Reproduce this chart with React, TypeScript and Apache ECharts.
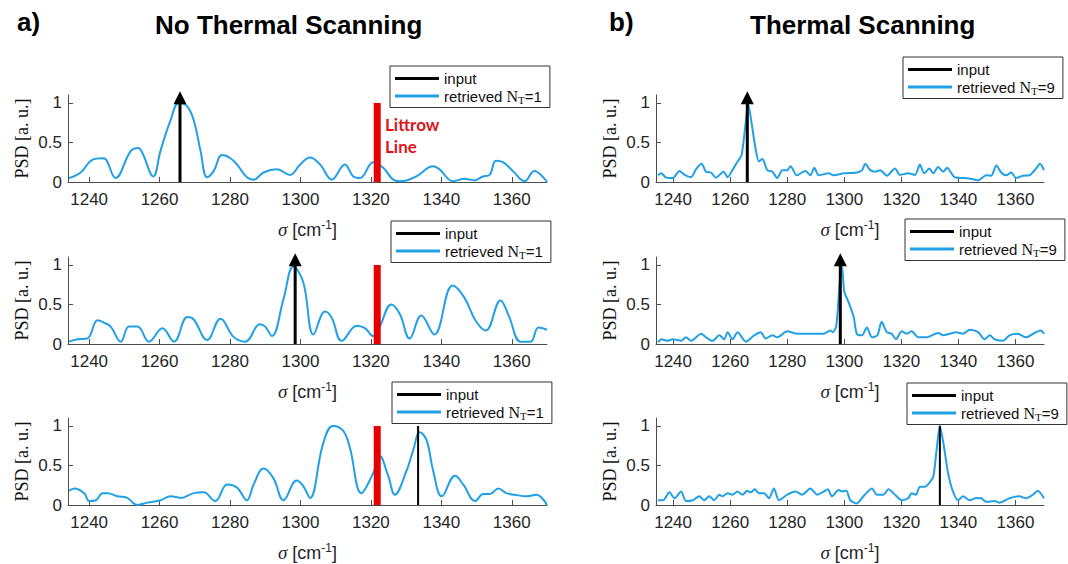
import React, { useEffect, useRef } from "react";
import * as echarts from "echarts";

// ---------- data ----------
const X_TICKS = [1240, 1260, 1280, 1300, 1320, 1340, 1360];
const Y_TICKS = [0, 0.5, 1];
const X_MIN = 1234;
const X_MAX = 1370;

const LITTROW_SIGMA = 1321.8;
const INPUT_SIGMA = [1265.8, 1298.5, 1333.4, 1266.0, 1298.6, 1333.5];
const INPUT_HAS_ARROW = [true, true, false, true, true, false];

// a) No thermal scanning, row 1
const SIGMA_A1 = [1234.3, 1237.6, 1240.9, 1243.8, 1244.7, 1247.5, 1251.8, 1253.9, 1255.1, 1258.2, 1260.3, 1263.1, 1265.5, 1267.8, 1269.7, 1271.6, 1273.5, 1275.4, 1277.7, 1280.1, 1282.0, 1284.8, 1286.7, 1289.5, 1293.3, 1297.0, 1299.9, 1302.7, 1305.6, 1308.9, 1312.6, 1315.0, 1316.9, 1320.7, 1323.5, 1326.3, 1328.2, 1330.1, 1332.9, 1337.7, 1339.5, 1343.3, 1346.6, 1349.4, 1351.8, 1353.7, 1355.5, 1357.5, 1360.3, 1363.6, 1366.4, 1368.3, 1370.0];
const PSD_A1 = [0.05, 0.12, 0.28, 0.30, 0.29, 0.05, 0.39, 0.43, 0.37, 0.07, 0.40, 0.78, 1.0, 0.96, 0.78, 0.40, 0.06, 0.14, 0.34, 0.30, 0.22, 0.06, 0.03, 0.12, 0.16, 0.09, 0.22, 0.31, 0.22, 0.03, 0.22, 0.07, 0.05, 0.25, 0.18, 0.03, 0.01, 0.02, 0.07, 0.20, 0.16, 0.01, 0.04, 0.02, 0.07, 0.09, 0.27, 0.25, 0.14, 0.01, 0.14, 0.09, 0.0];

// a) row 2
const SIGMA_A2 = [1234.3, 1236.7, 1239.5, 1242.4, 1244.2, 1246.1, 1249.0, 1251.3, 1253.7, 1257.0, 1260.8, 1264.1, 1267.9, 1269.7, 1273.5, 1277.3, 1281.0, 1284.3, 1288.5, 1290.0, 1291.9, 1295.2, 1298.0, 1300.8, 1303.7, 1307.0, 1308.9, 1311.7, 1316.0, 1318.3, 1320.7, 1322.5, 1325.8, 1328.2, 1331.0, 1334.3, 1338.0, 1343.2, 1346.5, 1349.8, 1352.6, 1356.8, 1359.2, 1362.5, 1365.3, 1367.6, 1370.0];
const PSD_A2 = [0.03, 0.06, 0.07, 0.30, 0.27, 0.22, 0.03, 0.22, 0.22, 0.03, 0.20, 0.03, 0.34, 0.31, 0.05, 0.32, 0.09, 0.03, 0.25, 0.22, 0.10, 0.57, 0.98, 0.78, 0.12, 0.41, 0.33, 0.04, 0.23, 0.20, 0.10, 0.22, 0.50, 0.38, 0.07, 0.36, 0.12, 0.74, 0.59, 0.29, 0.17, 0.55, 0.35, 0.03, 0.03, 0.21, 0.18];

// a) row 3
const SIGMA_A3 = [1234.3, 1235.8, 1238.6, 1240.0, 1241.9, 1243.8, 1245.2, 1248.0, 1250.8, 1253.7, 1256.5, 1260.3, 1263.1, 1266.0, 1269.7, 1272.5, 1275.8, 1279.2, 1282.0, 1284.8, 1286.7, 1289.5, 1292.3, 1295.2, 1298.9, 1300.8, 1302.7, 1306.4, 1309.2, 1312.1, 1314.0, 1317.3, 1320.7, 1322.5, 1324.9, 1326.8, 1330.1, 1332.0, 1333.9, 1335.8, 1337.7, 1340.1, 1343.9, 1346.2, 1349.6, 1351.9, 1353.8, 1356.2, 1358.5, 1360.8, 1364.2, 1367.0, 1370.0];
const PSD_A3 = [0.18, 0.21, 0.15, 0.05, 0.06, 0.15, 0.15, 0.11, 0.09, 0.0, 0.03, 0.06, 0.11, 0.09, 0.15, 0.16, 0.05, 0.26, 0.22, 0.06, 0.26, 0.46, 0.34, 0.06, 0.31, 0.24, 0.09, 0.77, 1.0, 0.94, 0.73, 0.15, 0.41, 0.62, 0.37, 0.13, 0.43, 0.69, 0.92, 0.82, 0.43, 0.11, 0.37, 0.26, 0.05, 0.14, 0.14, 0.21, 0.15, 0.13, 0.11, 0.13, 0.0];

// b) Thermal scanning, row 1
const SIGMA_B1 = [1234.7, 1235.8, 1237.6, 1239.9, 1242.2, 1244.0, 1246.3, 1248.0, 1250.0, 1251.5, 1253.3, 1255.0, 1257.7, 1259.1, 1260.8, 1262.6, 1264.0, 1265.5, 1266.3, 1267.4, 1269.0, 1270.1, 1271.3, 1273.0, 1274.8, 1276.5, 1278.3, 1280.0, 1281.2, 1283.3, 1286.4, 1288.1, 1289.5, 1291.0, 1294.5, 1296.3, 1299.8, 1304.4, 1306.2, 1307.4, 1309.1, 1310.8, 1312.6, 1314.9, 1317.8, 1319.5, 1322.4, 1324.8, 1326.5, 1328.0, 1329.8, 1331.2, 1332.9, 1334.7, 1336.0, 1338.7, 1342.2, 1345.1, 1346.9, 1349.8, 1351.5, 1353.3, 1355.0, 1356.7, 1358.5, 1360.2, 1362.6, 1364.9, 1367.2, 1368.6, 1370.0];
const PSD_B1 = [0.085, 0.11, 0.055, 0.05, 0.14, 0.09, 0.06, 0.16, 0.23, 0.13, 0.12, 0.055, 0.13, 0.06, 0.15, 0.26, 0.34, 0.77, 0.99, 0.77, 0.40, 0.26, 0.29, 0.15, 0.13, 0.05, 0.15, 0.15, 0.20, 0.085, 0.14, 0.085, 0.18, 0.085, 0.11, 0.085, 0.11, 0.12, 0.15, 0.23, 0.15, 0.13, 0.15, 0.08, 0.17, 0.09, 0.11, 0.09, 0.22, 0.11, 0.17, 0.11, 0.19, 0.13, 0.18, 0.06, 0.05, 0.035, 0.02, 0.085, 0.08, 0.21, 0.12, 0.085, 0.12, 0.05, 0.08, 0.085, 0.17, 0.23, 0.15];

// b) row 2
const SIGMA_B2 = [1234.7, 1235.8, 1238.1, 1239.9, 1242.8, 1244.5, 1246.3, 1249.8, 1251.5, 1253.8, 1256.2, 1257.9, 1259.1, 1260.8, 1262.6, 1265.5, 1268.4, 1270.7, 1272.4, 1274.8, 1276.5, 1280.0, 1283.5, 1287.0, 1290.5, 1292.8, 1295.1, 1296.0, 1297.2, 1298.4, 1299.2, 1300.0, 1301.5, 1303.3, 1304.4, 1306.2, 1307.9, 1309.7, 1311.6, 1313.1, 1314.9, 1316.6, 1318.1, 1320.1, 1321.9, 1323.6, 1325.9, 1328.8, 1332.9, 1334.7, 1337.0, 1339.3, 1341.6, 1344.0, 1346.9, 1349.2, 1351.0, 1352.7, 1355.6, 1357.9, 1360.8, 1363.7, 1367.2, 1368.9, 1370.0];
const PSD_B2 = [0.02, 0.06, 0.04, 0.06, 0.04, 0.085, 0.04, 0.13, 0.085, 0.04, 0.11, 0.06, 0.15, 0.06, 0.15, 0.03, 0.11, 0.15, 0.07, 0.11, 0.085, 0.16, 0.13, 0.13, 0.13, 0.13, 0.17, 0.15, 0.23, 0.79, 0.98, 0.66, 0.53, 0.34, 0.13, 0.11, 0.21, 0.085, 0.11, 0.28, 0.15, 0.13, 0.06, 0.16, 0.13, 0.16, 0.085, 0.085, 0.14, 0.11, 0.13, 0.15, 0.13, 0.18, 0.15, 0.06, 0.11, 0.06, 0.04, 0.11, 0.13, 0.085, 0.15, 0.17, 0.13];

// b) row 3
const SIGMA_B3 = [1234.7, 1236.5, 1238.7, 1240.5, 1242.8, 1244.5, 1246.9, 1249.2, 1250.9, 1252.7, 1254.4, 1256.2, 1257.3, 1259.1, 1260.8, 1262.6, 1264.3, 1266.0, 1267.2, 1268.6, 1270.1, 1271.9, 1273.6, 1275.3, 1277.1, 1280.0, 1282.9, 1285.2, 1288.1, 1290.5, 1292.8, 1294.2, 1295.7, 1298.0, 1299.2, 1300.7, 1302.1, 1304.4, 1306.7, 1309.7, 1311.4, 1313.7, 1315.5, 1317.8, 1320.1, 1322.4, 1323.6, 1325.1, 1326.5, 1328.3, 1329.8, 1331.2, 1332.3, 1333.5, 1334.7, 1336.4, 1338.1, 1339.9, 1341.6, 1344.0, 1346.3, 1348.0, 1349.8, 1352.7, 1354.4, 1357.9, 1361.4, 1363.7, 1366.1, 1367.8, 1370.0];
const PSD_B3 = [0.06, 0.06, 0.16, 0.085, 0.17, 0.05, 0.06, 0.11, 0.06, 0.11, 0.06, 0.13, 0.11, 0.15, 0.13, 0.17, 0.13, 0.18, 0.16, 0.20, 0.15, 0.15, 0.085, 0.21, 0.06, 0.13, 0.17, 0.13, 0.21, 0.13, 0.17, 0.20, 0.11, 0.19, 0.17, 0.18, 0.06, 0.02, 0.11, 0.21, 0.13, 0.13, 0.20, 0.13, 0.06, 0.085, 0.15, 0.13, 0.23, 0.23, 0.28, 0.36, 0.68, 1.0, 0.79, 0.40, 0.17, 0.06, 0.11, 0.06, 0.09, 0.085, 0.04, 0.05, 0.03, 0.085, 0.11, 0.085, 0.13, 0.18, 0.085];

const PANELS = [
  { sigma: SIGMA_A1, psd: PSD_A1, nt: 1 },
  { sigma: SIGMA_A2, psd: PSD_A2, nt: 1 },
  { sigma: SIGMA_A3, psd: PSD_A3, nt: 1 },
  { sigma: SIGMA_B1, psd: PSD_B1, nt: 9 },
  { sigma: SIGMA_B2, psd: PSD_B2, nt: 9 },
  { sigma: SIGMA_B3, psd: PSD_B3, nt: 9 },
];

// ---------- layout / style ----------
const GRID_LEFT = [68, 656];
const GRID_WIDTH = [479, 388];
const GRID_TOP = [95, 257, 418];
const GRID_HEIGHT = 87;
const LEGEND_POS = [
  [390, 66], [391, 221], [392, 382],
  [903, 57], [905, 219], [907, 383],
];

const BLUE = "#22a0e6";
const RED = "#e60000";
const AXIS = "#4d4d4d";
const SANS = "Liberation Sans, Arial, sans-serif";
const SERIF = "Liberation Serif, Times New Roman, serif";

export default function App() {
  const ref = useRef<HTMLDivElement>(null);

  useEffect(() => {
    if (!ref.current) return;
    const chart = echarts.init(ref.current, undefined, { renderer: "svg" });

    const grids: any[] = [];
    const xAxes: any[] = [];
    const yAxes: any[] = [];
    const series: any[] = [];
    const legends: any[] = [];

    PANELS.forEach((p, i) => {
      const col = i < 3 ? 0 : 1;
      const row = i % 3;
      grids.push({
        left: GRID_LEFT[col],
        width: GRID_WIDTH[col],
        top: GRID_TOP[row],
        height: GRID_HEIGHT,
      });
      xAxes.push({
        type: "value",
        gridIndex: i,
        min: X_MIN,
        max: X_MAX,
        axisLine: { show: true, onZero: false, lineStyle: { color: AXIS, width: 1 } },
        axisTick: { show: true, inside: true, length: 5, customValues: X_TICKS, lineStyle: { color: AXIS } },
        axisLabel: {
          customValues: X_TICKS,
          margin: 9,
          fontSize: 17,
          fontFamily: SANS,
          color: "#262626",
          formatter: (v: number) => String(v),
        },
        splitLine: { show: false },
        name: "{s|σ} [cm{p|-1}]",
        nameLocation: "middle",
        nameGap: 37,
        nameTextStyle: {
          fontSize: 18,
          fontFamily: SANS,
          color: "#262626",
          rich: {
            s: { fontFamily: SERIF, fontStyle: "italic", fontSize: 19, color: "#262626" },
            p: { fontFamily: SANS, fontSize: 12, padding: [0, 0, 9, 0], color: "#262626" },
          },
        },
      });
      yAxes.push({
        type: "value",
        gridIndex: i,
        min: 0,
        max: 1.1,
        axisLine: { show: true, onZero: false, lineStyle: { color: AXIS, width: 1 } },
        axisTick: { show: true, inside: true, length: 5, customValues: Y_TICKS, lineStyle: { color: AXIS } },
        axisLabel: {
          customValues: Y_TICKS,
          margin: 6,
          fontSize: 17,
          fontFamily: SANS,
          color: "#262626",
          formatter: (v: number) => String(v),
        },
        splitLine: { show: false },
        name: "PSD [a. u.]",
        nameLocation: "middle",
        nameRotate: 90,
        nameGap: 37,
        nameTextStyle: { fontSize: 18, fontFamily: SERIF, color: "#111" },
      });

      const retrievedName = `retrieved N_T=${p.nt}`;
      series.push({
        type: "line",
        name: retrievedName,
        xAxisIndex: i,
        yAxisIndex: i,
        data: p.sigma.map((s, k) => [s, p.psd[k]]),
        smooth: col === 0 ? 0.4 : 0.25,
        showSymbol: false,
        symbol: "none",
        lineStyle: { color: BLUE, width: 2 },
        itemStyle: { color: BLUE },
        z: 2,
      });
      series.push({
        type: "line",
        name: "input",
        xAxisIndex: i,
        yAxisIndex: i,
        data: [[INPUT_SIGMA[i], 0], [INPUT_SIGMA[i], 1]],
        showSymbol: false,
        symbol: "none",
        lineStyle: { color: "#000", width: INPUT_HAS_ARROW[i] ? 3 : 2 },
        itemStyle: { color: "#000" },
        z: 3,
      });
      if (INPUT_HAS_ARROW[i]) {
        series.push({
          type: "scatter",
          name: "arrow",
          xAxisIndex: i,
          yAxisIndex: i,
          data: [[INPUT_SIGMA[i], 1.065]],
          symbol: "triangle",
          symbolSize: [13, 13],
          itemStyle: { color: "#000", opacity: 1 },
          clip: false,
          z: 4,
        });
      }
      if (col === 0) {
        series.push({
          type: "line",
          name: "Littrow",
          xAxisIndex: i,
          yAxisIndex: i,
          data: [[LITTROW_SIGMA, 0], [LITTROW_SIGMA, 1]],
          showSymbol: false,
          symbol: "none",
          lineStyle: { color: RED, width: 7 },
          itemStyle: { color: RED },
          z: 5,
        });
      }

      const nt = p.nt;
      legends.push({
        orient: "vertical",
        left: LEGEND_POS[i][0],
        top: LEGEND_POS[i][1],
        data: ["input", retrievedName],
        icon: "rect",
        itemWidth: 44,
        itemHeight: 3,
        itemGap: 2,
        padding: [5, 8, 2, 5],
        borderColor: "#333",
        borderWidth: 1,
        backgroundColor: "#fff",
        selectedMode: false,
        formatter: (name: string) =>
          name === "input" ? "{a|input}" : `{a|retrieved }{n|N}{t|T}{a|=${nt}}`,
        textStyle: {
          fontSize: 15,
          fontFamily: SANS,
          color: "#111",
          rich: {
            a: { fontSize: 15, fontFamily: SANS, color: "#111" },
            n: { fontSize: 16, fontFamily: SERIF, color: "#111" },
            t: { fontSize: 11, fontFamily: SERIF, color: "#111", padding: [8, 0, 0, 0] },
          },
        },
      });
    });

    const titleStyle = { fontSize: 26, fontWeight: "bold", fontFamily: SANS, color: "#000" };
    chart.setOption({
      animation: false,
      backgroundColor: "#fff",
      title: [
        { text: "a)", left: 17, top: 9, padding: 0, textStyle: titleStyle },
        { text: "No Thermal Scanning", left: 155, top: 12, padding: 0, textStyle: titleStyle },
        { text: "b)", left: 609, top: 9, padding: 0, textStyle: titleStyle },
        { text: "Thermal Scanning", left: 750, top: 12, padding: 0, textStyle: titleStyle },
      ],
      grid: grids,
      xAxis: xAxes,
      yAxis: yAxes,
      legend: legends,
      series,
      graphic: [
        {
          type: "text",
          x: 385,
          y: 113,
          style: {
            text: "Littrow\nLine",
            fill: "#e0141a",
            fontSize: 17,
            fontWeight: "bold",
            fontFamily: "Lato, Open Sans, sans-serif",
            lineHeight: 22,
          },
        },
      ],
    });

    return () => chart.dispose();
  }, []);

  return (
    <div
      ref={ref}
      style={{ position: "fixed", left: 0, top: 0, width: "1068px", height: "564px", background: "#fff" }}
    />
  );
}
